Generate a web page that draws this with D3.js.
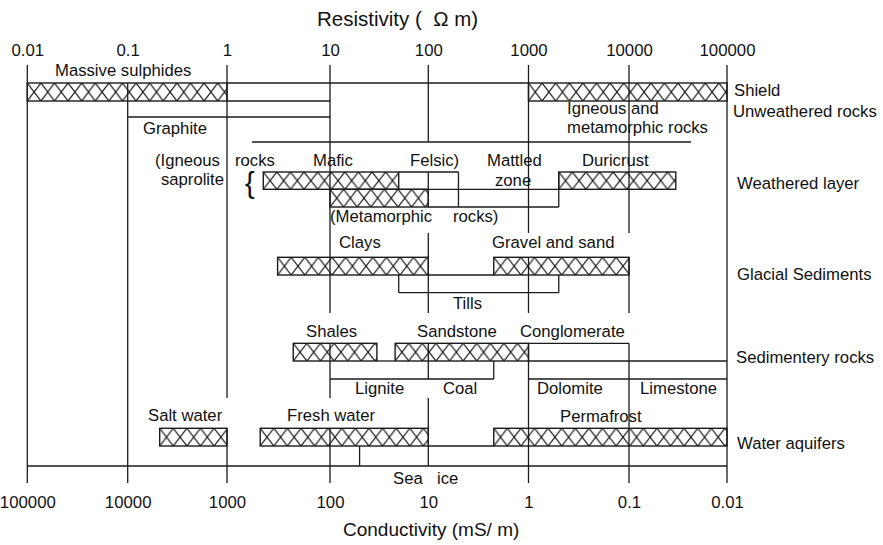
<!DOCTYPE html>
<html>
<head>
<meta charset="utf-8">
<script src="https://cdn.jsdelivr.net/npm/d3@7"></script>
<style>
  html, body { margin: 0; padding: 0; background: #fff; }
  svg text { font-family: "Liberation Sans", Arial, Helvetica, sans-serif; fill: #111; white-space: pre; }
</style>
</head>
<body>
<svg id="chart" width="883" height="545"></svg>
<script>
// ---------------- DATA ----------------
const decades = [0.01, 0.1, 1, 10, 100, 1000, 10000, 100000];            // resistivity (ohm m)
const resistivityLabels = ["0.01", "0.1", "1", "10", "100", "1000", "10000", "100000"];
const conductivityValues = [100000, 10000, 1000, 100, 10, 1, 0.1, 0.01];  // mS/m
const conductivityLabels = ["100000", "10000", "1000", "100", "10", "1", "0.1", "0.01"];

// hatched resistivity ranges: [name, low, high, band]
const hatchedRanges = [
  ["Massive sulphides", 0.01, 1, "shield"],
  ["Igneous and metamorphic rocks", 1000, 100000, "shield"],
  ["Mafic", 2.25, 50, "weatheredTop"],
  ["Metamorphic rocks", 10, 100, "weatheredBottom"],
  ["Duricrust", 2000, 30000, "weatheredTop"],
  ["Clays", 3.1, 100, "glacial"],
  ["Gravel and sand", 450, 10000, "glacial"],
  ["Shales", 4.4, 30, "sedimentary"],
  ["Sandstone", 46, 1000, "sedimentary"],
  ["Salt water", 0.21, 1, "water"],
  ["Fresh water", 2.1, 100, "water"],
  ["Permafrost", 450, 100000, "water"]
];

// open range outlines: horizontal [low, high, level]
const rangeLinesH = [
  [1, 1000, "a"], [1, 10, "b"], [0.1, 10, "c"], [1.75, 43000, "d"],
  [50, 200, "e"], [50, 2000, "f"], [100, 2000, "g"],
  [100, 450, "j"], [50, 2000, "k"],
  [30, 46, "n"], [1000, 100000, "n"], [1000, 10000, "m"],
  [10, 450, "o"], [1000, 100000, "o"],
  [100, 450, "r"], [0.01, 100000, "s"]
];
// vertical [value, topLevel, bottomLevel]
const rangeLinesV = [
  [200, "e", "g"], [2000, "e", "g"], [50, "j", "k"], [2000, "j", "k"],
  [450, "n", "o"], [20, "r", "s"]
];
// decade grid segments: [decade, topLevel, bottomLevel]
const decadeSegments = [
  [0.01, "top", "t"],
  [0.1, "a", "t"],
  [1, "top", "p"], [1, "q", "t"],
  [10, "top", "l"], [10, "m", "p"], [10, "q", "t"],
  [100, "top", "d"], [100, "e", "g"], [100, "h", "l"], [100, "m", "o"], [100, "p", "s"],
  [1000, "top", "h"], [1000, "i", "l"], [1000, "m", "t"],
  [10000, "top", "h"], [10000, "i", "l"], [10000, "m", "t"],
  [100000, "top", "t"]
];

// group labels on the right
const groupLabels = ["Shield", "Unweathered rocks", "Weathered layer", "Glacial Sediments", "Sedimentery rocks", "Water aquifers"];

// ---------------- LAYOUT ----------------
const L = { top: 65, a: 83, b: 101, c: 117, d: 142, e: 172, f: 189.3, g: 207, h: 233, i: 257.3, j: 275,
            k: 292.7, l: 313, m: 343.3, n: 361, o: 379, p: 398, q: 428.3, r: 446, s: 466, t: 483 };
const bands = {
  shield: ["a", "b"], weatheredTop: ["e", "f"], weatheredBottom: ["f", "g"],
  glacial: ["i", "j"], sedimentary: ["m", "n"], water: ["q", "r"]
};
const decadePx = [27.3, 127.7, 227, 330, 428.3, 528.5, 629, 727];

const svg = d3.select("#chart");
const x = d3.scaleLog().domain(decades).range(decadePx);
const xc = d3.scaleLog().domain(conductivityValues).range(decadePx);
const y = k => L[k];

const ink = "#1b1b1b";

// hatch patterns, anchored to each bar
const defs = svg.append("defs");
hatchedRanges.forEach((d, i) => {
  const [t, b] = bands[d[3]];
  const h = y(b) - y(t);
  const w = 13.6;
  const p = defs.append("pattern")
    .attr("id", "hatch" + i)
    .attr("patternUnits", "userSpaceOnUse")
    .attr("x", x(d[1])).attr("y", y(t))
    .attr("width", w).attr("height", h);
  p.append("path")
    .attr("d", `M0,0L${w},${h}M${w},0L0,${h}M${-w},0L0,${h}M0,0L${-w},${h}M${w},0L${2*w},${h}M${2*w},0L${w},${h}`)
    .attr("stroke", ink).attr("stroke-width", 1.2).attr("fill", "none");
});

// decade grid
svg.append("g").selectAll("line").data(decadeSegments).join("line")
  .attr("x1", d => x(d[0])).attr("x2", d => x(d[0]))
  .attr("y1", d => y(d[1])).attr("y2", d => y(d[2]))
  .attr("stroke", ink).attr("stroke-width", 1.3);

// horizontal range lines
svg.append("g").selectAll("line").data(rangeLinesH).join("line")
  .attr("x1", d => x(d[0])).attr("x2", d => x(d[1]))
  .attr("y1", d => y(d[2])).attr("y2", d => y(d[2]))
  .attr("stroke", ink).attr("stroke-width", 1.3);

// vertical range lines
svg.append("g").selectAll("line").data(rangeLinesV).join("line")
  .attr("x1", d => x(d[0])).attr("x2", d => x(d[0]))
  .attr("y1", d => y(d[1])).attr("y2", d => y(d[2]))
  .attr("stroke", ink).attr("stroke-width", 1.3);

// hatched bars
svg.append("g").selectAll("rect").data(hatchedRanges).join("rect")
  .attr("x", d => x(d[1]))
  .attr("width", d => x(d[2]) - x(d[1]))
  .attr("y", d => y(bands[d[3]][0]))
  .attr("height", d => y(bands[d[3]][1]) - y(bands[d[3]][0]))
  .attr("fill", (d, i) => `url(#hatch${i})`)
  .attr("stroke", ink).attr("stroke-width", 1.4);

// axes (labels only)
const topAxis = svg.append("g").attr("transform", "translate(0,61)")
  .call(d3.axisTop(x).tickValues(decades).tickFormat((d, i) => resistivityLabels[i]).tickSize(0).tickPadding(5));
const botAxis = svg.append("g").attr("transform", "translate(0,491)")
  .call(d3.axisBottom(xc).tickValues(conductivityValues).tickFormat((d, i) => conductivityLabels[i]).tickSize(0).tickPadding(5));
[topAxis, botAxis].forEach(g => {
  g.select(".domain").remove();
  g.attr("font-family", null).attr("font-size", null);
  g.selectAll("text").attr("font-size", 16.8).attr("fill", "#111");
});

// titles
svg.append("text").attr("x", 317).attr("y", 26).attr("font-size", 20.5).text("Resistivity (  \u03A9 m)");
svg.append("text").attr("x", 343).attr("y", 536).attr("font-size", 19).text("Conductivity (mS/ m)");

// annotation labels (layout)
const annotations = [
  ["Massive sulphides", 55, 76], ["Graphite", 143, 134],
  ["Igneous and", 567, 114], ["metamorphic rocks", 567, 133],
  ["(Igneous", 155, 166], ["rocks", 235, 166], ["Mafic", 313, 166], ["Felsic)", 410, 166],
  ["Mattled", 487, 166], ["zone", 495, 186], ["Duricrust", 582, 166],
  ["(Metamorphic", 330, 222], ["rocks)", 453, 222],
  ["Clays", 339, 248], ["Gravel and sand", 492, 248], ["Tills", 453, 309],
  ["Shales", 306, 337], ["Sandstone", 417, 337], ["Conglomerate", 520, 337],
  ["Lignite", 355, 394], ["Coal", 443, 394], ["Dolomite", 537, 394], ["Limestone", 640, 394],
  ["Salt water", 148, 421], ["Fresh water", 287, 421], ["Permafrost", 560, 422],
  ["Sea", 393, 484], ["ice", 437, 484]
];
svg.append("g").selectAll("text").data(annotations).join("text")
  .attr("x", d => d[1]).attr("y", d => d[2]).attr("font-size", 16.7).text(d => d[0]);
svg.append("text").attr("x", 224).attr("y", 185).attr("font-size", 16.7).attr("text-anchor", "end").text("saprolite");
svg.append("text").attr("x", 245).attr("y", 193).attr("font-size", 29).text("{");

const groupPos = [[734, 96], [733, 117], [737, 189], [737, 280], [736, 363], [737, 449]];
svg.append("g").selectAll("text").data(groupLabels).join("text")
  .attr("x", (d, i) => groupPos[i][0]).attr("y", (d, i) => groupPos[i][1])
  .attr("font-size", 16.7).text(d => d);
</script>
</body>
</html>
